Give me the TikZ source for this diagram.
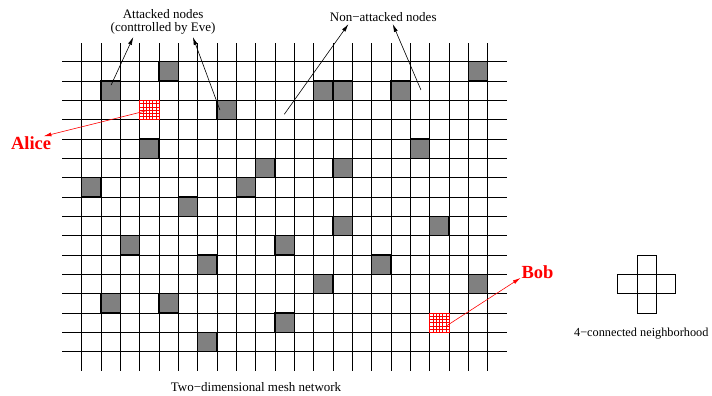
\documentclass[tikz,border=0pt]{standalone}
\usepackage{fontspec}
\setmainfont{Liberation Serif}
\usetikzlibrary{arrows.meta, positioning, calc}
\definecolor{evegray}{HTML}{808080}
\definecolor{endred}{HTML}{FF0000}

\begin{document}
\begin{tikzpicture}[
    x=19.33pt, y=-19.33pt,
    mesh/.style={line width=0.9pt, color=black},
    attacked/.style={fill=evegray, draw=black, line width=1.2pt},
    endbox/.style={draw=endred, line width=0.9pt},
    hatch/.style={endred, line width=0.5pt},
    caption/.style={font=\fontsize{13}{13.5}\selectfont, align=center, inner sep=2pt},
    party/.style={font=\fontsize{18.5}{20}\selectfont\bfseries, text=endred, inner sep=2pt},
    arr/.style={-{Latex[length=8pt, width=4pt]}, line width=0.6pt},
    redarr/.style={-{Latex[length=8pt, width=4pt]}, line width=0.6pt, color=endred},
]
    \useasboundingbox (-4.227,-3.192) rectangle (32.607,17.294);
    \foreach \i in {0,...,21} \draw[mesh] (\i,-0.95) -- (\i,16);
    \foreach \j in {0,...,15} \draw[mesh] (-1,\j) -- (22,\j);
    \foreach \c/\r in {1/1, 4/0, 7/2, 3/4, 0/6, 8/6, 9/5, 5/7, 12/1, 13/1, 16/1, 20/0, 17/4, 13/5,
                       2/9, 6/10, 1/12, 4/12, 6/14, 13/8, 18/8, 10/9, 15/10, 12/11, 20/11, 10/13}
        \draw[attacked] (\c,\r) rectangle ++(1,1);
    \foreach \c/\r in {3/2, 18/13} {
        \fill[white] (\c,\r) rectangle ++(1,1);
        \foreach \k in {1,...,5} {
            \draw[hatch] ($(\c,\r)+(\k/6,0)$) -- ++(0,1);
            \draw[hatch] ($(\c,\r)+(0,\k/6)$) -- ++(1,0);
        }
        \draw[endbox] (\c,\r) rectangle ++(1,1);
    }

    \node[caption] (attacked) at (4.21,-2.05) {Attacked nodes\\(conttrolled by Eve)};
    \node[caption] (free) at (15.6,-2.3) {Non−attacked nodes};
    \node[party] (alice) at (-2.62,4.21) {Alice};
    \node[party] (bob) at (23.58,10.88) {Bob};
    \node[caption] (mesh) at (9.02,16.85) {Two−dimensional mesh network};

    \coordinate (eveA) at (1.52,1.21);
    \coordinate (eveB) at (7.15,2.5);
    \coordinate (freeA) at (10.48,2.72);
    \coordinate (freeB) at (17.55,1.46);
    \coordinate (alicecell) at (3.3,2.55);
    \coordinate (bobcell) at (18.88,13.66);
    \draw[arr] (eveA) -- ($(attacked.south)+(-1.54,0)$);
    \draw[arr] (eveB) -- ($(attacked.south)+(1.54,0)$);
    \draw[arr] (freeA) -- ($(free.south)+(-1.8,0)$);
    \draw[arr] (freeB) -- ($(free.south)+(0.49,0)$);
    \draw[redarr] (alicecell) -- ($(alice.north)+(0.64,0.1)$);
    \draw[redarr] (bobcell) -- ($(bob.south west)+(0.07,-0.15)$);

    \draw[mesh] (28.74,10) rectangle (29.74,13);
    \draw[mesh] (27.74,11) rectangle (30.74,12);
    \node[caption, font=\fontsize{12.3}{13}\selectfont] (hood) at (28.95,14.05) {4−connected neighborhood};
\end{tikzpicture}
\end{document}
